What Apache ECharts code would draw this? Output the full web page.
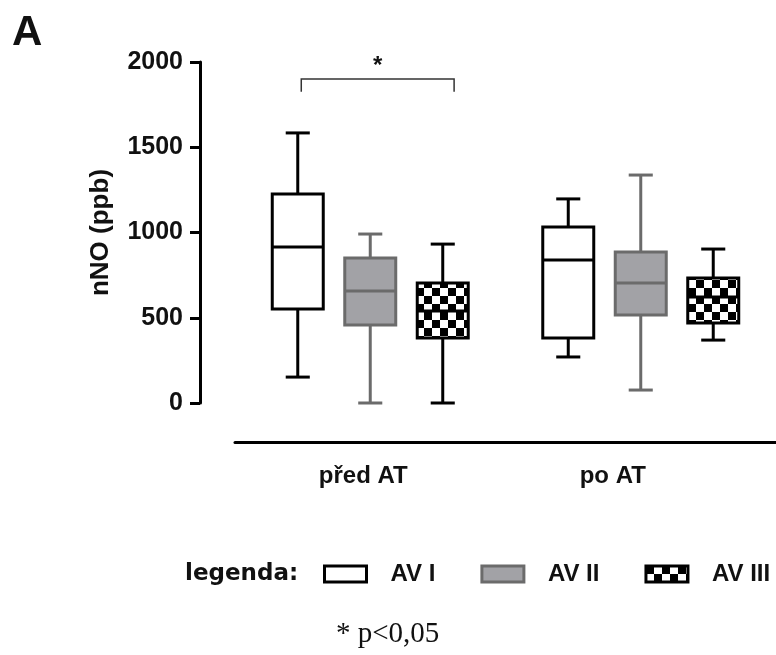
<!DOCTYPE html>
<html>
<head>
<meta charset="utf-8">
<script src="https://cdn.jsdelivr.net/npm/echarts@6/dist/echarts.min.js"></script>
<style>
html, body { margin: 0; padding: 0; background: #fff; }
#chart { width: 776px; height: 655px; }
</style>
</head>
<body>
<div id="chart"></div>
<script>
const categories = ['před AT', 'po AT']
const seriesNames = ['AV I', 'AV II', 'AV III']
// [min, Q1, median, Q3, max] per category
const avI = [[152, 551, 915, 1226, 1584], [270, 381, 839, 1032, 1197]]
const avII = [[0, 457, 657, 850, 991], [76, 516, 704, 886, 1337]]
const avIII = [[0, 381, 540, 704, 932], [369, 469, 622, 733, 903]]
const yTicks = [0, 500, 1000, 1500, 2000]
// bracket over 'před AT': AV I vs AV III -> [category, top, tick end]
const sigBracket = [[0, 1900, 1825]]
const sigLabel = '*'
const legendTitle = 'legenda:'
const footnote = '* p<0,05'

const FONT = 'Liberation Sans'

// checkerboard fill for AV III
const makeChecker = size => {
  const c = document.createElement('canvas')
  c.width = c.height = size * 2
  const ctx = c.getContext('2d')
  ctx.fillStyle = '#fff'
  ctx.fillRect(0, 0, size * 2, size * 2)
  ctx.fillStyle = '#000'
  ctx.fillRect(0, 0, size, size)
  ctx.fillRect(size, size, size, size)
  return c
}
const checker = { image: makeChecker(8), repeat: 'repeat' }

const styles = [
  { fill: '#ffffff', stroke: '#000000' },
  { fill: '#a2a2a6', stroke: '#6b6b6b' },
  { fill: checker, stroke: '#000000' }
]

const OFFSET = 0.268 // box offset, share of band
const BOX_W = 0.1885
const CAP_W = 0.089

const renderBox = sIdx => (params, api) => {
  const band = api.size([1, 0])[0]
  const cat = api.value(0)
  const cx = api.coord([cat, 0])[0] + (sIdx - 1) * band * OFFSET
  const half = band * BOX_W / 2
  const cap = band * CAP_W / 2
  const y = i => api.coord([cat, api.value(i)])[1]
  const yMin = y(1), yQ1 = y(2), yMed = y(3), yQ3 = y(4), yMax = y(5)
  const st = styles[sIdx]
  const line = { stroke: st.stroke, lineWidth: 3 }
  return {
    type: 'group',
    children: [
      { type: 'line', shape: { x1: cx, y1: yMax, x2: cx, y2: yQ3 }, style: line },
      { type: 'line', shape: { x1: cx, y1: yQ1, x2: cx, y2: yMin }, style: line },
      { type: 'line', shape: { x1: cx - cap, y1: yMax, x2: cx + cap, y2: yMax }, style: line },
      { type: 'line', shape: { x1: cx - cap, y1: yMin, x2: cx + cap, y2: yMin }, style: line },
      { type: 'rect', shape: { x: cx - half, y: yQ3, width: half * 2, height: yQ1 - yQ3 },
        style: { fill: st.fill, stroke: st.stroke, lineWidth: 3 } },
      { type: 'line', shape: { x1: cx - half, y1: yMed, x2: cx + half, y2: yMed }, style: line }
    ]
  }
}

const renderBracket = (params, api) => {
  const band = api.size([1, 0])[0]
  const cat = api.value(0)
  const c = api.coord([cat, 0])[0]
  const x0 = c - band * 0.255
  const x1 = c + band * 0.31
  const yTop = api.coord([cat, api.value(1)])[1]
  const yEnd = api.coord([cat, api.value(2)])[1]
  return {
    type: 'group',
    children: [
      { type: 'polyline', shape: { points: [[x0, yEnd], [x0, yTop], [x1, yTop], [x1, yEnd]] },
        style: { stroke: '#333', lineWidth: 1.5, fill: null } },
      { type: 'text', x: (x0 + x1) / 2, y: yTop - 13,
        style: { text: sigLabel, font: 'bold 24px ' + FONT, fill: '#111', align: 'center', verticalAlign: 'middle' } }
    ]
  }
}

const toData = arr => arr.map((d, i) => [i].concat(d))
const boxData = [avI, avII, avIII]
// labels in the original sit a bit left of the group centres
const labelPad = [[0, 14, 0, 0], [0, 56, 0, 0]]

const myChart = echarts.init(document.getElementById('chart'))

const option = {
  animation: false,
  backgroundColor: '#fff',
  grid: { left: 235, right: 0, top: 62, bottom: 252 },
  xAxis: {
    type: 'category',
    data: categories.map((c, i) => ({ value: c, textStyle: { padding: labelPad[i] } })),
    offset: 39,
    axisLine: { onZero: false, lineStyle: { color: '#000', width: 3 } },
    axisTick: { show: false },
    axisLabel: { fontSize: 24, fontWeight: 'bold', color: '#111', fontFamily: FONT, margin: 22 }
  },
  yAxis: {
    type: 'value',
    min: 0,
    max: 2000,
    interval: 500,
    offset: 35,
    name: 'nNO (ppb)',
    nameLocation: 'middle',
    nameRotate: 90,
    nameGap: 86,
    nameTextStyle: { fontSize: 26, fontWeight: 'bold', color: '#111', fontFamily: FONT },
    axisLine: { show: true, onZero: false, lineStyle: { color: '#000', width: 3 } },
    axisTick: { show: true, length: 10, customValues: yTicks, lineStyle: { color: '#000', width: 3 } },
    axisLabel: { fontSize: 25, fontWeight: 'bold', color: '#111', fontFamily: FONT, margin: 17,
      customValues: yTicks, formatter: v => String(v) },
    splitLine: { show: false }
  },
  legend: {
    data: [
      { name: seriesNames[0], itemStyle: { color: '#fff', borderColor: '#000', borderWidth: 3 } },
      { name: seriesNames[1], itemStyle: { color: '#a2a2a6', borderColor: '#6b6b6b', borderWidth: 3 } },
      { name: seriesNames[2], itemStyle: { color: checker, borderColor: '#000', borderWidth: 3 } }
    ],
    icon: 'rect',
    left: 323,
    top: 562,
    padding: 0,
    itemWidth: 42,
    itemHeight: 16,
    itemGap: 45,
    selectedMode: false,
    textStyle: { fontSize: 24, fontWeight: 'bold', color: '#111', fontFamily: FONT, padding: [0, 0, 0, 19] }
  },
  graphic: [
    { type: 'text', left: 12, top: 12, style: { text: 'A', font: 'bold 42px ' + FONT, fill: '#111' } },
    { type: 'text', left: 185, top: 563, style: { text: legendTitle, font: 'bold 23px "DejaVu Sans"', fill: '#111' } },
    { type: 'text', left: 336, top: 620, style: { text: footnote, font: '29px "Liberation Serif"', fill: '#111' } }
  ],
  series: seriesNames.map((name, i) => ({
    name,
    type: 'custom',
    renderItem: renderBox(i),
    encode: { x: 0, y: [1, 2, 3, 4, 5] },
    itemStyle: { color: styles[i].fill, borderColor: styles[i].stroke, borderWidth: 3 },
    data: toData(boxData[i])
  })).concat([{
    name: 'sig',
    type: 'custom',
    renderItem: renderBracket,
    encode: { x: 0, y: [1, 2] },
    data: sigBracket
  }])
}

myChart.setOption(option)
window.addEventListener('resize', () => myChart.resize())
</script>
</body>
</html>
